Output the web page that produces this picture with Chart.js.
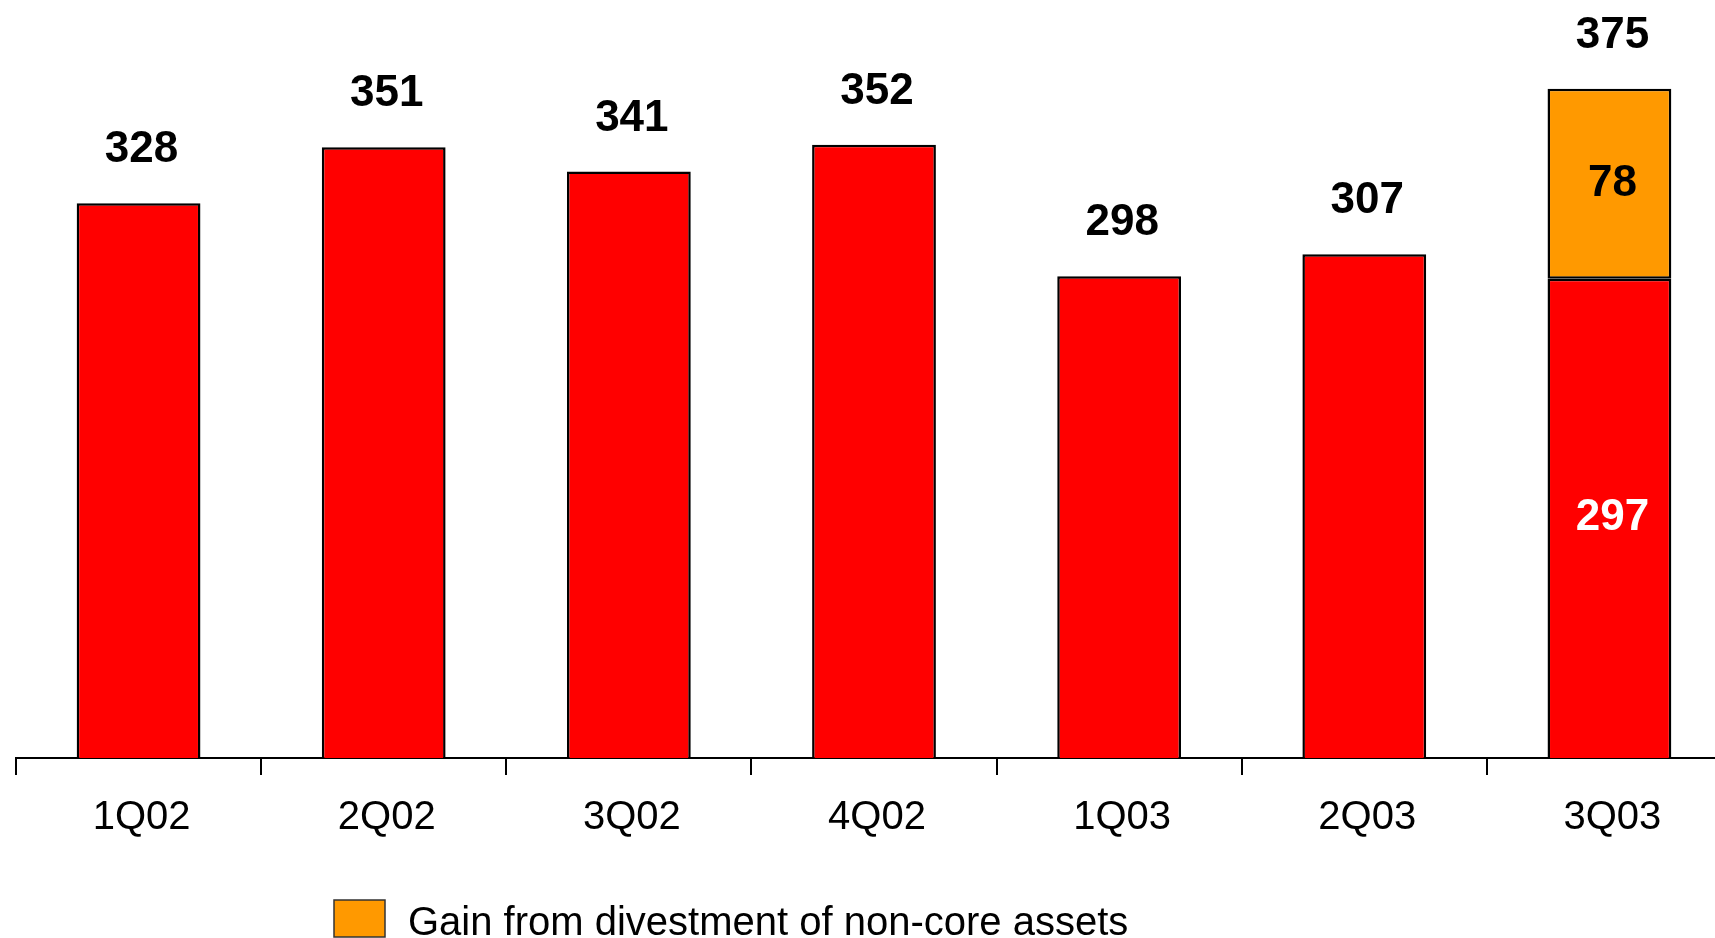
<!DOCTYPE html>
<html>
<head>
<meta charset="utf-8">
<script src="https://cdn.jsdelivr.net/npm/chart.js@4"></script>
<style>
  html, body { margin: 0; padding: 0; background: #fff; overflow: hidden; }
  #wrap { width: 1733px; height: 938px; }
</style>
</head>
<body>
<div id="wrap"><canvas id="myChart" width="1733" height="938"></canvas></div>
<script>
const quarters = ['1Q02', '2Q02', '3Q02', '4Q02', '1Q03', '2Q03', '3Q03'];
const baseValues = [328, 351, 341, 352, 298, 307, 297];
const gainValues = [null, null, null, null, null, null, 78];
const gainLabel = 'Gain from divestment of non-core assets';

const FONT = '"Liberation Sans", Arial, sans-serif';

// value labels: total above each bar, segment values inside the stacked one
const valueLabels = {
  id: 'valueLabels',
  afterDatasetsDraw(chart) {
    const ctx = chart.ctx;
    const y = chart.scales.y;
    const baseMeta = chart.getDatasetMeta(0);
    ctx.save();
    ctx.font = 'bold 44px ' + FONT;
    ctx.textAlign = 'center';
    ctx.textBaseline = 'middle';
    quarters.forEach((q, i) => {
      const base = baseValues[i];
      const gain = gainValues[i] || 0;
      const total = base + gain;
      const x = baseMeta.data[i].x + 3;
      ctx.fillStyle = '#000';
      ctx.fillText(String(total), x, y.getPixelForValue(total) - 53);
      if (gain) {
        const top = y.getPixelForValue(total);
        const mid = y.getPixelForValue(base);
        ctx.fillText(String(gain), x, (top + mid) / 2);
        ctx.fillStyle = '#fff';
        ctx.fillText(String(base), x, (mid + chart.chartArea.bottom) / 2);
      }
    });
    ctx.restore();
  }
};

// legend only for the gain series
const gainLegend = {
  id: 'gainLegend',
  afterDraw(chart) {
    const ctx = chart.ctx;
    const ds = chart.data.datasets[1];
    ctx.save();
    ctx.fillStyle = ds.backgroundColor;
    ctx.strokeStyle = '#333';
    ctx.lineWidth = 1.5;
    ctx.fillRect(334, 900, 51, 37);
    ctx.strokeRect(334, 900, 51, 37);
    ctx.fillStyle = '#000';
    ctx.font = '40px ' + FONT;
    ctx.textAlign = 'left';
    ctx.textBaseline = 'middle';
    ctx.fillText(ds.label, 408, 924);
    ctx.restore();
  }
};

const data = {
  labels: quarters,
  datasets: [{
    label: 'Base',
    data: baseValues,
    backgroundColor: '#FF0000',
    borderColor: '#000',
    borderWidth: 2.5,
    borderSkipped: false,
  }, {
    label: gainLabel,
    data: gainValues,
    backgroundColor: '#FF9900',
    borderColor: '#000',
    borderWidth: 2.5,
    borderSkipped: false,
  }]
};

const config = {
  type: 'bar',
  data,
  options: {
    responsive: false,
    animation: false,
    barPercentage: 0.505,
    categoryPercentage: 1.0,
    layout: { padding: { left: 16, right: 1, top: 28, bottom: 0 } },
    plugins: {
      legend: { display: false },
      tooltip: { enabled: false }
    },
    scales: {
      x: {
        stacked: true,
        grid: {
          display: true,
          offset: true,
          drawOnChartArea: false,
          drawTicks: true,
          tickLength: 17,
          color: '#000',
          lineWidth: 2
        },
        border: { display: true, color: '#000', width: 2 },
        ticks: {
          color: '#000',
          padding: 19,
          labelOffset: 3,
          font: { family: FONT, size: 40 }
        },
        afterFit(scale) { scale.height = 180; }
      },
      y: {
        stacked: true,
        display: false,
        min: 100,
        max: 400
      }
    }
  },
  plugins: [valueLabels, gainLegend]
};

var myChart = new Chart(document.getElementById('myChart'), config);
</script>
</body>
</html>
